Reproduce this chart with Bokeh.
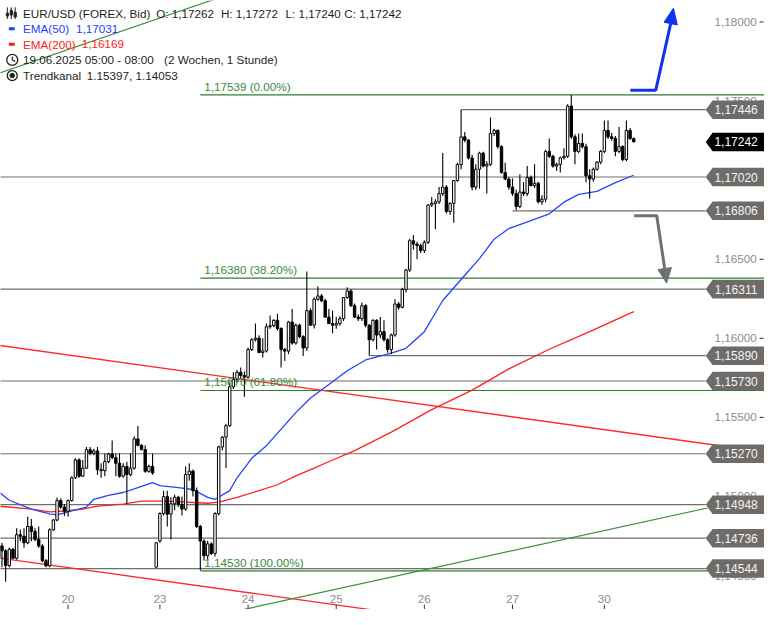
from bokeh.plotting import figure
from bokeh.models import Range1d
from bokeh.core.properties import value
from bokeh.embed import file_html
from bokeh.resources import INLINE

# ---------------- data (EUR/USD, 1h candles, slot index = hour position) ----------------
opens = [1.14615,1.14687,1.14656,1.14563,1.14666,1.14609,1.14758,1.14748,1.14707,1.14810,
         1.14779,1.14728,1.14687,1.14594,1.14561,1.14789,1.14851,1.14974,1.14933,1.14906,
         1.14974,1.15118,1.15231,1.15128,1.15179,1.15296,1.15272,1.15288,1.15169,1.15163,
         1.15220,1.15268,1.15245,1.15210,1.15128,1.15190,1.15138,1.15179,1.15364,1.15323,
         1.15296,1.15159,1.15190,1.14553,1.14718,1.14892,1.14999,1.14888,1.14954,1.14995,
         1.14950,1.14920,1.15139,1.15160,1.15036,1.14810,1.14718,1.14625,1.14700,1.14640,
         1.14892,1.15313,1.15375,1.15447,1.15693,1.15740,1.15785,1.15765,1.15754,1.15929,
         1.15991,1.16001,1.15910,1.15920,1.16073,1.16080,1.16114,1.16062,1.15929,1.15919,
         1.16103,1.15970,1.16083,1.16011,1.15939,1.16175,1.16083,1.16247,1.16268,1.16237,
         1.16134,1.16093,1.16083,1.16093,1.16124,1.16258,1.16299,1.16206,1.16134,1.16124,
         1.16206,1.16083,1.15991,1.16114,1.16021,1.16042,1.15991,1.15929,1.16021,1.16217,
         1.16196,1.16309,1.16432,1.16617,1.16596,1.16586,1.16555,1.16607,1.16843,1.16853,
         1.16863,1.16915,1.16956,1.16802,1.16853,1.16997,1.17099,1.17274,1.17253,1.17140,
         1.16956,1.17069,1.17171,1.17089,1.17100,1.17295,1.17315,1.17212,1.17048,1.17007,
         1.16956,1.16915,1.16833,1.16925,1.16915,1.17017,1.16966,1.16980,1.16863,1.16880,
         1.17182,1.17151,1.17089,1.17100,1.17141,1.17151,1.17469,1.17274,1.17182,1.17233,
         1.17212,1.17028,1.17007,1.17069,1.17114,1.17182,1.17315,1.17274,1.17264,1.17182,
         1.17212,1.17130,1.17315,1.17262]
highs = [1.14697,1.14707,1.14666,1.14676,1.14676,1.14799,1.14789,1.14799,1.14871,1.14857,
         1.14799,1.14810,1.14697,1.14604,1.14799,1.14857,1.14994,1.14988,1.14953,1.14980,
         1.15128,1.15241,1.15241,1.15231,1.15313,1.15313,1.15302,1.15313,1.15210,1.15272,
         1.15276,1.15354,1.15272,1.15272,1.15210,1.15220,1.15272,1.15380,1.15446,1.15330,
         1.15323,1.15200,1.15272,1.14707,1.14900,1.15036,1.15036,1.14995,1.15010,1.15005,
         1.15000,1.15190,1.15210,1.15170,1.15057,1.14820,1.14730,1.14720,1.14710,1.14900,
         1.15320,1.15380,1.15460,1.15720,1.15785,1.15800,1.15816,1.15790,1.15940,1.16000,
         1.16093,1.16020,1.16000,1.16093,1.16145,1.16120,1.16155,1.16070,1.15940,1.16110,
         1.16186,1.16093,1.16093,1.16020,1.16422,1.16190,1.16260,1.16329,1.16280,1.16250,
         1.16186,1.16175,1.16134,1.16140,1.16260,1.16323,1.16310,1.16220,1.16150,1.16227,
         1.16215,1.16090,1.16120,1.16120,1.16134,1.16114,1.16001,1.16030,1.16247,1.16230,
         1.16320,1.16440,1.16630,1.16654,1.16610,1.16600,1.16620,1.16850,1.16894,1.16880,
         1.16956,1.17171,1.16970,1.16860,1.17000,1.17110,1.17446,1.17305,1.17260,1.17161,
         1.17100,1.17180,1.17180,1.17120,1.17397,1.17325,1.17320,1.17220,1.17110,1.17020,
         1.17010,1.16940,1.17038,1.16987,1.17089,1.17030,1.17100,1.16990,1.16905,1.17192,
         1.17264,1.17160,1.17110,1.17150,1.17202,1.17480,1.17539,1.17290,1.17295,1.17295,
         1.17230,1.17069,1.17080,1.17120,1.17190,1.17377,1.17377,1.17300,1.17280,1.17336,
         1.17220,1.17377,1.17330,1.17272]
lows = [1.14594,1.14553,1.14461,1.14553,1.14604,1.14600,1.14717,1.14676,1.14697,1.14717,
        1.14717,1.14676,1.14584,1.14553,1.14553,1.14783,1.14841,1.14923,1.14877,1.14871,
        1.14968,1.15111,1.15118,1.15124,1.15173,1.15261,1.15261,1.15138,1.15118,1.15128,
        1.15210,1.15237,1.15128,1.15118,1.15118,1.14953,1.15128,1.15169,1.15318,1.15292,
        1.15150,1.15150,1.15138,1.14549,1.14707,1.14880,1.14810,1.14728,1.14913,1.14933,
        1.14880,1.14910,1.15100,1.15000,1.14800,1.14533,1.14595,1.14600,1.14630,1.14620,
        1.14880,1.15290,1.15180,1.15440,1.15680,1.15720,1.15744,1.15631,1.15744,1.15920,
        1.15980,1.15905,1.15878,1.15910,1.16060,1.16070,1.16050,1.15816,1.15857,1.15900,
        1.15960,1.15960,1.16000,1.15888,1.15920,1.16080,1.16062,1.16237,1.16230,1.16130,
        1.16090,1.16032,1.16060,1.16080,1.16110,1.16250,1.16200,1.16130,1.16110,1.16110,
        1.16070,1.15892,1.15980,1.15929,1.16000,1.15980,1.15909,1.15900,1.16010,1.16180,
        1.16190,1.16290,1.16420,1.16560,1.16500,1.16540,1.16540,1.16596,1.16830,1.16689,
        1.16850,1.16900,1.16790,1.16780,1.16730,1.16990,1.17069,1.17240,1.17130,1.16935,
        1.16940,1.16946,1.17080,1.16915,1.17090,1.17280,1.17200,1.17040,1.17000,1.16940,
        1.16900,1.16810,1.16822,1.16900,1.16900,1.16960,1.16950,1.16853,1.16845,1.16860,
        1.17140,1.17079,1.17058,1.17048,1.17130,1.17140,1.17260,1.17100,1.17170,1.17200,
        1.16987,1.16884,1.16990,1.17060,1.17100,1.17170,1.17260,1.17250,1.17151,1.17170,
        1.17120,1.17120,1.17255,1.17240]
closes = [1.14687,1.14656,1.14563,1.14666,1.14609,1.14758,1.14748,1.14707,1.14810,1.14779,
          1.14728,1.14687,1.14594,1.14561,1.14789,1.14851,1.14974,1.14933,1.14906,1.14974,
          1.15118,1.15231,1.15128,1.15179,1.15296,1.15272,1.15288,1.15169,1.15163,1.15220,
          1.15268,1.15245,1.15210,1.15128,1.15190,1.15138,1.15179,1.15364,1.15323,1.15296,
          1.15159,1.15190,1.15148,1.14707,1.14892,1.14999,1.14888,1.14954,1.14995,1.14950,
          1.14920,1.15139,1.15160,1.15036,1.14810,1.14718,1.14625,1.14700,1.14640,1.14892,
          1.15313,1.15375,1.15447,1.15693,1.15740,1.15785,1.15765,1.15754,1.15929,1.15991,
          1.16001,1.15910,1.15920,1.16073,1.16080,1.16114,1.16062,1.15929,1.15919,1.16103,
          1.15970,1.16083,1.16011,1.15939,1.16175,1.16083,1.16247,1.16268,1.16237,1.16134,
          1.16093,1.16083,1.16093,1.16124,1.16258,1.16299,1.16206,1.16134,1.16124,1.16206,
          1.16083,1.15991,1.16114,1.16021,1.16042,1.15991,1.15929,1.16021,1.16217,1.16196,
          1.16309,1.16432,1.16617,1.16596,1.16586,1.16555,1.16607,1.16843,1.16853,1.16863,
          1.16915,1.16956,1.16802,1.16853,1.16997,1.17099,1.17274,1.17253,1.17140,1.16956,
          1.17069,1.17171,1.17089,1.17100,1.17295,1.17315,1.17212,1.17048,1.17007,1.16956,
          1.16915,1.16833,1.16925,1.16915,1.17017,1.16966,1.16980,1.16863,1.16880,1.17182,
          1.17151,1.17089,1.17100,1.17141,1.17151,1.17469,1.17274,1.17182,1.17233,1.17212,
          1.17028,1.17007,1.17069,1.17114,1.17182,1.17315,1.17274,1.17264,1.17182,1.17212,
          1.17130,1.17315,1.17262,1.17242]

ema50_idx = [0,3,9,14,16,19,24,26,30,34,38,42,44,49,53,57,59,63,65,69,73,77,81,85,89,95,
             100,107,111,116,121,127,131,135,139,145,150,154,158,163,168,173]
ema50_val = [1.15031,1.14976,1.14920,1.14890,1.14883,1.14902,1.14933,1.14982,1.15007,1.15025,
             1.15056,1.15087,1.15068,1.15056,1.15044,1.14994,1.14982,1.15037,1.15118,1.15241,
             1.15321,1.15426,1.15530,1.15623,1.15690,1.15795,1.15863,1.15906,1.15937,1.16042,
             1.16239,1.16399,1.16504,1.16627,1.16694,1.16744,1.16787,1.16861,1.16910,1.16929,
             1.16984,1.17031]
ema200_idx = [0,9,14,18,23,27,34,39,46,57,60,65,71,76,81,86,89,97,107,118,129,139,150,161,173]
ema200_val = [1.14939,1.14920,1.14902,1.14908,1.14920,1.14939,1.14951,1.14970,1.14970,1.14957,
              1.14964,1.14994,1.15037,1.15074,1.15130,1.15179,1.15210,1.15290,1.15407,1.15549,
              1.15672,1.15807,1.15931,1.16042,1.16169]

day_labels = ["20", "23", "24", "25", "26", "27", "30"]
day_slots = [19, 44, 68, 92, 116, 140, 165]
price_ticks = [1.14500, 1.15000, 1.15500, 1.16000, 1.16500, 1.17000, 1.17500, 1.18000]

level_values = [1.17446, 1.17020, 1.16806, 1.16311, 1.15890, 1.15730, 1.15270, 1.14948, 1.14736, 1.14544]
level_start = [126, 0, 140, 0, 101, 0, 0, 0, 0, 0]
last_close = 1.17242

fib_values = [1.17539, 1.16380, 1.15670, 1.14530]
fib_labels = ["1,17539 (0.00%)", "1,16380 (38.20%)", "1,15670 (61.80%)", "1,14530 (100.00%)"]
fib_start = 55

chan_upper_slots = [0, 197]
chan_upper_vals = [1.15956, 1.15319]
chan_lower_slots = [0, 110]
chan_lower_vals = [1.14612, 1.14256]
green_a_slots = [0, 70]
green_a_vals = [1.17674, 1.18233]
green_b_slots = [64.6, 193.1]
green_b_vals = [1.14274, 1.14927]

# ---------------- layout helpers (reference pixel -> data) ----------------
def sx(px):
    return (px + 2.25) / 3.75

def sy(py):
    return 1.17446 - (py - 112) / 16230.0

FONT = value("Liberation Sans")
FS = "11.7px"

p = figure(width=764, height=609, output_backend="svg", toolbar_location=None,
           x_axis_type=None, y_axis_type=None, min_border=0,
           x_range=Range1d(sx(0), sx(780)), y_range=Range1d(sy(625), sy(0)))
p.outline_line_color = None
p.background_fill_color = "white"

GREY = "#6e6e6e"
GREEN = "#2f7d2f"

# horizontal support / resistance lines
for v, s in zip(level_values, level_start):
    p.line([s, sx(720)], [v, v], line_color=GREY, line_width=1.2)

# fib lines
for v in fib_values:
    p.line([fib_start, sx(781)], [v, v], line_color=GREEN, line_width=1.2)

# trend lines
p.line(chan_upper_slots, chan_upper_vals, line_color="#ff2a2a", line_width=1.3)
p.line(chan_lower_slots, chan_lower_vals, line_color="#ff2a2a", line_width=1.3)
p.line(green_a_slots, green_a_vals, line_color="#3d8f3d", line_width=1.2)
p.line(green_b_slots, green_b_vals, line_color="#3d8f3d", line_width=1.2)

# EMAs
p.line(ema200_idx, ema200_val, line_color="#ff2020", line_width=1.3)
p.line(ema50_idx, ema50_val, line_color="#2244ff", line_width=1.3)

# candles
idx = list(range(len(closes)))
p.segment(x0=idx, y0=lows, x1=idx, y1=highs, line_color="black", line_width=1.1)
tops = [max(o, c) for o, c in zip(opens, closes)]
bots = [min(o, c) for o, c in zip(opens, closes)]
fills = ["white" if c >= o else "black" for o, c in zip(opens, closes)]
p.vbar(x=idx, width=0.66, top=tops, bottom=bots, fill_color=fills, line_color="black", line_width=1)

# fib labels
for v, t in zip(fib_values, fib_labels):
    p.text(x=[sx(208)], y=[v], text=[t], text_color="#3a8a3a", text_font=FONT,
           text_font_size=FS, text_baseline="bottom", y_offset=-2)

# right price axis labels
for v in price_ticks:
    lab = f"{v:.5f}".replace(".", ",")
    p.text(x=[sx(772)], y=[v], text=[lab], text_color="#8c8c8c", text_font=FONT,
           text_font_size=FS, text_align="right", text_baseline="middle")
    p.line([sx(775), sx(779)], [v, v], line_color="#222222", line_width=1)

# level tags
hh = 9.5 / 16230.0
xs, ys = [], []
for v in level_values:
    xs.append([sx(720), sx(727), sx(781), sx(781), sx(727)])
    ys.append([v, v + hh, v + hh, v - hh, v - hh])
p.patches(xs, ys, fill_color="#6f6b68", line_color=None)
p.text(x=[sx(751)] * len(level_values), y=level_values,
       text=[f"{v:.5f}".replace(".", ",") for v in level_values],
       text_color="#f4f4f4", text_font=FONT, text_font_size="12px",
       text_align="center", text_baseline="middle")
p.patch([sx(720), sx(727), sx(781), sx(781), sx(727)],
        [last_close, last_close + hh, last_close + hh, last_close - hh, last_close - hh],
        fill_color="black", line_color=None)
p.text(x=[sx(751)], y=[last_close], text=[f"{last_close:.5f}".replace(".", ",")],
       text_color="white", text_font=FONT, text_font_size="12px",
       text_align="center", text_baseline="middle")

# x axis day labels
p.text(x=day_slots, y=[sy(614)] * len(day_slots), text=day_labels, text_color="#8c8c8c",
       text_font=FONT, text_font_size=FS, text_align="center", text_baseline="middle")
p.segment(x0=day_slots, y0=[sy(620)] * len(day_slots), x1=day_slots, y1=[sy(626)] * len(day_slots),
          line_color="#333333", line_width=1)

# arrows
p.line([sx(643), sx(669), sx(684.2)], [sy(92), sy(92), sy(23.7)], line_color="#1133ee", line_width=3)
p.patch([sx(687), sx(691), sx(677.4)], [sy(8), sy(25.1), sy(22.3)], fill_color="#1133ee", line_color="#1133ee")
p.line([sx(647), sx(670), sx(678.1)], [sy(221), sy(221), sy(275.1)], line_color="#707070", line_width=3)
p.patch([sx(680), sx(685), sx(671.2)], [sy(290), sy(274.1), sy(276.1)], fill_color="#707070", line_color="#707070")

# legend block
def txt(px, py, s, color="#1e1e1e"):
    p.text(x=[sx(px)], y=[sy(py)], text=[s], text_color=color, text_font=FONT,
           text_font_size=FS, text_baseline="middle")

txt(23, 13, "EUR/USD (FOREX, Bid)")
txt(159, 13, "O: 1,17262")
txt(225, 13, "H: 1,17272")
txt(291, 13, "L: 1,17240")
txt(351, 13, "C: 1,17242")
txt(23, 29, "EMA(50)", "#1f3dff")
txt(77, 29, "1,17031", "#1f3dff")
txt(23, 45, "EMA(200)", "#ff1a1a")
txt(83, 45, "1,16169", "#ff1a1a")
txt(23, 61, "19.06.2025 05:00 - 08:00")
txt(167, 61, "(2 Wochen, 1 Stunde)")
txt(23, 77, "Trendkanal")
txt(88, 77, "1.15397, 1.14053")

# icons
p.line([sx(8.5), sx(14.5)], [sy(29), sy(29)], line_color="#1f3dff", line_width=3)
p.line([sx(8.5), sx(14.5)], [sy(45), sy(45)], line_color="#ff1a1a", line_width=3)
p.segment(x0=[sx(7), sx(11), sx(15)], y0=[sy(7), sy(7), sy(7)],
          x1=[sx(7), sx(11), sx(15)], y1=[sy(19), sy(19), sy(19)], line_color="#222222", line_width=1)
p.vbar(x=[sx(7), sx(11), sx(15)], width=2.2 / 3.75, top=[sy(13), sy(10), sy(12)],
       bottom=[sy(16), sy(15), sy(17)], fill_color="#222222", line_color="#222222")
p.scatter([sx(12)], [sy(61)], size=11, marker="circle", fill_color=None, line_color="#222222", line_width=1.3)
p.segment(x0=[sx(12), sx(12)], y0=[sy(61), sy(61)], x1=[sx(12), sx(15)], y1=[sy(57.5), sy(62.5)],
          line_color="#222222", line_width=1.2)
p.scatter([sx(12)], [sy(77)], size=10, marker="circle", fill_color=None, line_color="#222222", line_width=1.3)
p.scatter([sx(12)], [sy(77)], size=4.5, marker="circle", fill_color="#222222", line_color="#222222")

open("out.html", "w").write(file_html(p, INLINE))
